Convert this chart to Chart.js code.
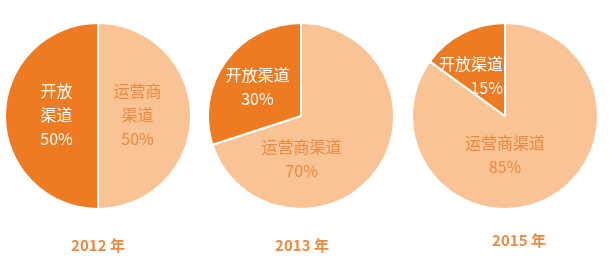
<!DOCTYPE html>
<html>
<head>
<meta charset="utf-8">
<script src="https://cdn.jsdelivr.net/npm/chart.js@4"></script>
<style>
  html, body { margin: 0; padding: 0; background: #fff; }
  .wrap { position: relative; width: 616px; height: 274px; }
  .wrap canvas { position: absolute; top: 0; }
</style>
</head>
<body>
<div class="wrap">
  <canvas id="pie0" style="left:0px"></canvas>
  <canvas id="pie1" style="left:205px"></canvas>
  <canvas id="pie2" style="left:410px"></canvas>
</div>
<script>
// Données
const years = ['2012 年', '2013 年', '2015 年'];
const categories = ['运营商渠道', '开放渠道'];
const carrierShare = [50, 70, 85];
const openShare = [50, 30, 15];

// Couleurs
const DARK = '#EE7A21';
const LIGHT = '#F9C396';
const TEXT_ORANGE = '#EA8A3E';
const FONT = '"Noto Sans CJK SC", "Noto Sans", sans-serif';

// Mise en page de chaque camembert (taille du canvas, padding, position des textes)
const layouts = [
  {
    width: 205, padding: { left: 4, top: 22, right: 13, bottom: 64 },
    labels: [
      { split: 3, dx: -7, dy: -25, align: 'center', color: TEXT_ORANGE },
      { split: 2, dx: 5, dy: -25, align: 'center', color: '#fff' }
    ],
    year: { dx: 0, y: 245 }
  },
  {
    width: 205, padding: { left: 2, top: 22, right: 15, bottom: 64 },
    labels: [
      { split: 0, dx: -37, dy: 4, align: 'center', color: TEXT_ORANGE },
      { split: 0, dx: -6, dy: -14, align: 'center', color: '#fff' }
    ],
    year: { dx: 1, y: 245 }
  },
  {
    width: 206, padding: { left: 1, top: 22, right: 17, bottom: 64 },
    labels: [
      { split: 0, dx: -21, dy: -15, align: 'center', color: TEXT_ORANGE },
      { split: 0, dx: 19, dy: -11, align: 'right', color: '#fff' }
    ],
    year: { dx: 14, y: 240 }
  }
];

// Plugin pour dessiner les étiquettes et l'année
const labelPlugin = {
  id: 'pieLabels',
  afterDatasetsDraw(chart, args, opts) {
    const ctx = chart.ctx;
    const meta = chart.getDatasetMeta(0);
    const ds = chart.data.datasets[0];
    const lay = opts.layout;
    ctx.save();
    ctx.font = '16px ' + FONT;
    ctx.textBaseline = 'middle';
    meta.data.forEach((arc, i) => {
      const cfg = lay.labels[i];
      const name = chart.data.labels[i];
      const lines = cfg.split ? [name.slice(0, cfg.split), name.slice(cfg.split)] : [name];
      lines.push(ds.data[i] + '%');
      const pos = arc.tooltipPosition();
      ctx.fillStyle = cfg.color;
      ctx.textAlign = cfg.align;
      lines.forEach((line, k) => {
        ctx.fillText(line, pos.x + cfg.dx, pos.y + cfg.dy + k * 24);
      });
    });
    // année
    const cx = (chart.chartArea.left + chart.chartArea.right) / 2;
    ctx.font = 'bold 15px ' + FONT;
    ctx.fillStyle = TEXT_ORANGE;
    ctx.textAlign = 'center';
    ctx.fillText(opts.year, cx + lay.year.dx, lay.year.y);
    ctx.restore();
  }
};

years.forEach((year, i) => {
  const lay = layouts[i];
  const canvas = document.getElementById('pie' + i);
  canvas.width = lay.width;
  canvas.height = 274;
  canvas.style.width = lay.width + 'px';
  canvas.style.height = '274px';

  new Chart(canvas.getContext('2d'), {
    type: 'pie',
    data: {
      labels: categories,
      datasets: [{
        data: [carrierShare[i], openShare[i]],
        backgroundColor: [LIGHT, DARK],
        borderColor: '#fff',
        borderWidth: 2
      }]
    },
    options: {
      responsive: false,
      animation: false,
      layout: { padding: lay.padding },
      plugins: {
        legend: { display: false },
        tooltip: { enabled: false },
        pieLabels: { layout: lay, year: year }
      }
    },
    plugins: [labelPlugin]
  });
});
</script>
</body>
</html>
